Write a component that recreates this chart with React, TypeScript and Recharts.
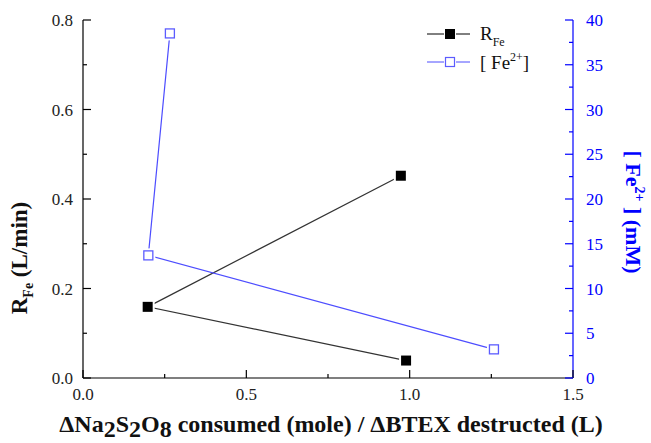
import { ComposedChart, Legend, Scatter, XAxis, YAxis } from "recharts";

// values
const rfeX = [0.973, 0.198, 0.989];
const rfeY = [0.452, 0.159, 0.039];
const fe2X = [0.266, 0.2, 1.258];
const fe2Y = [38.5, 13.7, 3.2];

const xTicks = [0, 0.25, 0.5, 0.75, 1, 1.25, 1.5];
const xMajor = [0, 0.5, 1, 1.5];
const leftTicks = [0, 0.1, 0.2, 0.3, 0.4, 0.5, 0.6, 0.7, 0.8];
const leftMajor = [0, 0.2, 0.4, 0.6, 0.8];
const rightTicks = [0, 2.5, 5, 7.5, 10, 12.5, 15, 17.5, 20, 22.5, 25, 27.5, 30, 32.5, 35, 37.5, 40];
const rightMajor = [0, 5, 10, 15, 20, 25, 30, 35, 40];

const rfeData = rfeX.map((x, i) => ({ x, y: rfeY[i] }));
const fe2Data = fe2X.map((x, i) => ({ x, y: fe2Y[i] }));

const FONT = "Liberation Serif, Times New Roman, DejaVu Serif, serif";
const BLUE = "#0000ff";
const LINE_BLUE = "#4d4dff";

const isMajor = (list: number[], v: number) => list.some((m) => Math.abs(m - v) < 1e-9);

function LeftTick(props: any) {
  const { x, y, payload } = props;
  const major = isMajor(leftMajor, payload.value);
  return (
    <g>
      <line x1={x} x2={x + (major ? 8 : 4)} y1={y} y2={y} stroke="#000" strokeWidth={1.2} />
      {major && (
        <text x={x - 10} y={y + 6} textAnchor="end" fontSize={17} style={{ fontFamily: FONT }} fill="#222">
          {payload.value.toFixed(1)}
        </text>
      )}
    </g>
  );
}

function RightTick(props: any) {
  const { x, y, payload } = props;
  const major = isMajor(rightMajor, payload.value);
  return (
    <g>
      <line x1={x} x2={x - (major ? 8 : 4)} y1={y} y2={y} stroke={BLUE} strokeWidth={1.2} />
      {major && (
        <text x={x + 13} y={y + 6} textAnchor="start" fontSize={17} style={{ fontFamily: FONT }} fill={BLUE}>
          {payload.value}
        </text>
      )}
    </g>
  );
}

function BottomTick(props: any) {
  const { x, y, payload } = props;
  const major = isMajor(xMajor, payload.value);
  return (
    <g>
      <line x1={x} x2={x} y1={y} y2={y - (major ? 8 : 4)} stroke="#000" strokeWidth={1.2} />
      {major && (
        <text x={x} y={y + 22} textAnchor="middle" fontSize={17} style={{ fontFamily: FONT }} fill="#222">
          {payload.value.toFixed(1)}
        </text>
      )}
    </g>
  );
}

function FilledSquare(props: any) {
  const { cx, cy } = props;
  return (
    <g>
      <rect x={cx - 7} y={cy - 7} width={14} height={14} fill="#fff" />
      <rect x={cx - 5} y={cy - 5} width={10} height={10} fill="#000" />
    </g>
  );
}

function OpenSquare(props: any) {
  const { cx, cy } = props;
  return (
    <g>
      <rect x={cx - 7} y={cy - 7} width={14} height={14} fill="#fff" />
      <rect x={cx - 4.5} y={cy - 4.5} width={9} height={9} fill="#fff" stroke="#5c5cff" strokeWidth={1.3} />
    </g>
  );
}

function LegendBox() {
  return (
    <svg width={150} height={60} style={{ display: "block", fontFamily: FONT }}>
      <line x1={5} x2={22} y1={14} y2={14} stroke="#000" />
      <line x1={34} x2={48} y1={14} y2={14} stroke="#000" />
      <rect x={23} y={9} width={10} height={10} fill="#000" />
      <text x={58} y={20} fontSize={19} fill="#111">
        R<tspan fontSize={12} dy={6}>Fe</tspan>
      </text>
      <line x1={5} x2={22} y1={42} y2={42} stroke={LINE_BLUE} />
      <line x1={34} x2={48} y1={42} y2={42} stroke={LINE_BLUE} />
      <rect x={23.5} y={37.5} width={9} height={9} fill="#fff" stroke="#5c5cff" strokeWidth={1.2} />
      <text x={58} y={49} fontSize={19} fill="#111">
        [ Fe<tspan fontSize={12} dy={-8}>2+</tspan>
        <tspan dy={8}>]</tspan>
      </text>
    </svg>
  );
}

function LeftTitle(props: any) {
  const cx = 27;
  const cy = 258;
  return (
    <text
      x={cx}
      y={cy}
      transform={`rotate(-90 ${cx} ${cy})`}
      textAnchor="middle"
      style={{ fontFamily: FONT }}
      fontWeight="bold"
      fontSize={23}
      fill="#111"
    >
      R<tspan fontSize={14} dy={6}>Fe</tspan>
      <tspan dy={-6}> (L/min)</tspan>
    </text>
  );
}

function RightTitle(props: any) {
  const cx = 626;
  const cy = 212;
  return (
    <text
      x={cx}
      y={cy}
      transform={`rotate(90 ${cx} ${cy})`}
      textAnchor="middle"
      style={{ fontFamily: FONT }}
      fontWeight="bold"
      fontSize={22}
      fill={BLUE}
    >
      [ Fe<tspan fontSize={14} dy={-9}>2+</tspan>
      <tspan dy={9}> ] (mM)</tspan>
    </text>
  );
}

function BottomTitle(props: any) {
  return (
    <text
      x={331}
      y={432}
      textAnchor="middle"
      style={{ fontFamily: FONT }}
      fontWeight="bold"
      fontSize={24}
      fill="#111"
    >
      ΔNa<tspan dy={5}>2</tspan>
      <tspan dy={-5}>S</tspan>
      <tspan dy={5}>2</tspan>
      <tspan dy={-5}>O</tspan>
      <tspan dy={5}>8</tspan>
      <tspan dy={-5}> consumed (mole) / ΔBTEX destructed (L)</tspan>
    </text>
  );
}

export default function App() {
  return (
    <div style={{ position: "fixed", left: 0, top: 0, width: 651, height: 443, background: "#fff" }}>
      <ComposedChart width={651} height={443} margin={{ top: 20, right: 0, bottom: 0, left: 0 }}>
        <XAxis
          type="number"
          dataKey="x"
          domain={[0, 1.5]}
          ticks={xTicks}
          interval={0}
          height={65}
          tickSize={0}
          tickMargin={0}
          tickLine={false}
          stroke="#000"
          strokeWidth={1.2}
          tick={<BottomTick />}
          label={{ content: <BottomTitle /> }}
        />
        <YAxis
          yAxisId="left"
          type="number"
          dataKey="y"
          domain={[0, 0.8]}
          ticks={leftTicks}
          interval={0}
          width={83}
          tickSize={0}
          tickMargin={0}
          tickLine={false}
          stroke="#000"
          strokeWidth={1.2}
          tick={<LeftTick />}
          label={{ content: <LeftTitle /> }}
        />
        <YAxis
          yAxisId="right"
          orientation="right"
          type="number"
          dataKey="y"
          domain={[0, 40]}
          ticks={rightTicks}
          interval={0}
          width={78}
          tickSize={0}
          tickMargin={0}
          tickLine={false}
          stroke={BLUE}
          strokeWidth={1.2}
          tick={<RightTick />}
          label={{ content: <RightTitle /> }}
        />
        <Legend
          layout="vertical"
          align="center"
          verticalAlign="middle"
          wrapperStyle={{ left: 422, top: 20, width: 150 }}
          content={() => <LegendBox />}
        />
        <Scatter
          yAxisId="left"
          data={rfeData}
          dataKey="y"
          line={{ stroke: "#333", strokeWidth: 1.2 }}
          lineType="joint"
          shape={<FilledSquare />}
          isAnimationActive={false}
        />
        <Scatter
          yAxisId="right"
          data={fe2Data}
          dataKey="y"
          line={{ stroke: LINE_BLUE, strokeWidth: 1.2 }}
          lineType="joint"
          shape={<OpenSquare />}
          isAnimationActive={false}
        />
      </ComposedChart>
    </div>
  );
}
